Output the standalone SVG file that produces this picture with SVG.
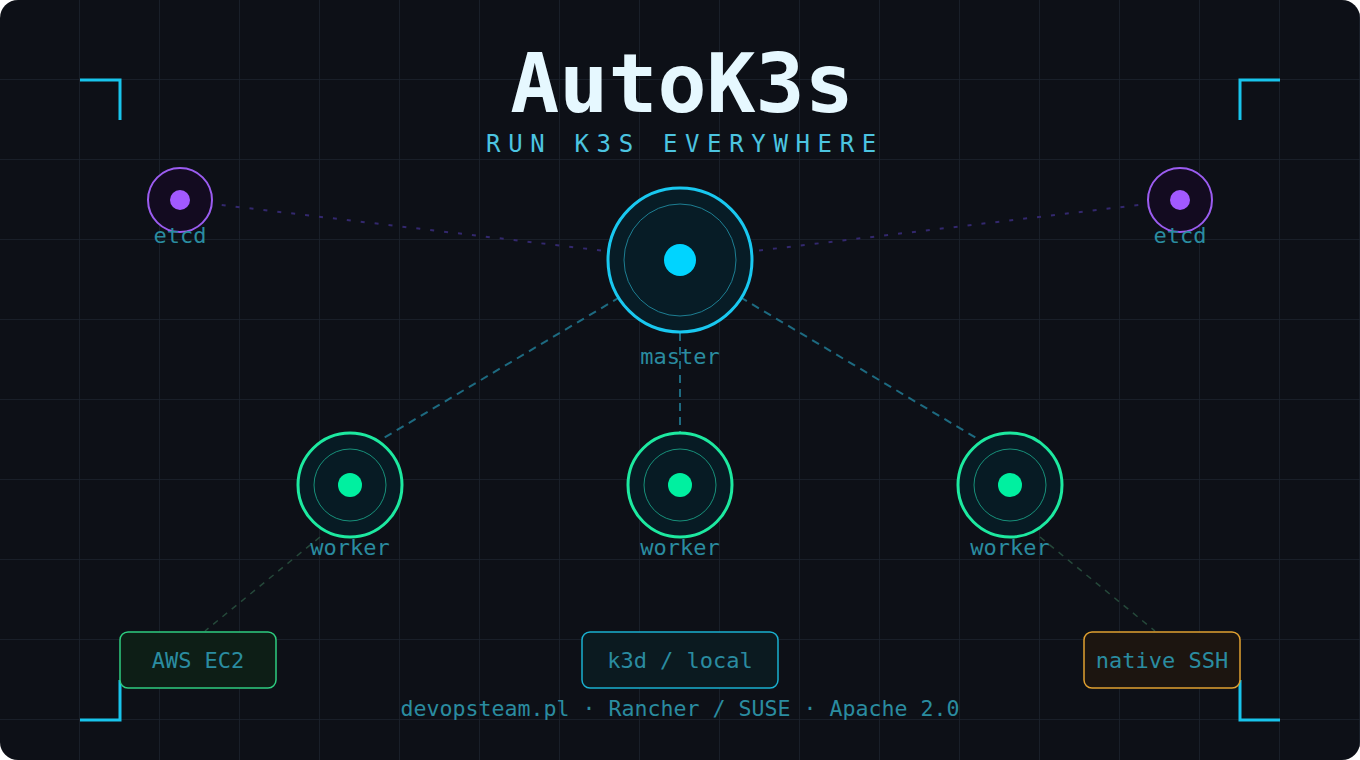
<svg xmlns="http://www.w3.org/2000/svg" width="1360" height="760" viewBox="0 0 1360 760">
  <defs>
    <pattern id="grid" x="0" y="0" width="80" height="80" patternUnits="userSpaceOnUse">
      <path d="M80 0 V80 M0 80 H80" fill="none" stroke="#1d232e" stroke-width="1.5"/>
    </pattern>
    <clipPath id="bgclip"><rect x="0" y="0" width="1360" height="760" rx="18"/></clipPath>
  </defs>
  <style>
    .lbl { font-family: "DejaVu Sans Mono", "Liberation Mono", monospace; font-size: 22px; fill: #2a8ca0; text-anchor: middle; }
    .bracket { fill: none; stroke: #18c4ec; stroke-width: 3; }
    .m2w { fill: none; stroke: #1d6a80; stroke-width: 2; stroke-dasharray: 8 6; }
    .e2m { fill: none; stroke: #33286e; stroke-width: 2; stroke-dasharray: 4 10; }
    .w2p { fill: none; stroke: #25483a; stroke-width: 1.5; stroke-dasharray: 6 6; }
    .etcd-ring { fill: #130b20; stroke: #9b5cf0; stroke-width: 2; }
    .etcd-dot { fill: #a259ff; }
    .worker-ring { fill: #071b24; stroke: #1de9a0; stroke-width: 3; }
    .worker-inner { fill: none; stroke: #17907a; stroke-width: 1; }
    .worker-dot { fill: #00f0a0; }
  </style>

  <g id="background" clip-path="url(#bgclip)">
    <rect x="0" y="0" width="1360" height="760" fill="#0d1017"/>
    <rect x="0" y="0" width="1360" height="760" fill="url(#grid)"/>
  </g>

  <g id="brackets">
    <path class="bracket" d="M80 80 H120 V120"/>
    <path class="bracket" d="M1280 80 H1240 V120"/>
    <path class="bracket" d="M80 720 H120 V680"/>
    <path class="bracket" d="M1280 720 H1240 V680"/>
  </g>

  <g id="title">
    <text x="682" y="112" font-family="DejaVu Sans Mono, Liberation Mono, monospace" font-size="81.5" font-weight="bold" fill="#e6f8ff" text-anchor="middle">AutoK3s</text>
    <text x="685" y="152" font-family="DejaVu Sans Mono, Liberation Mono, monospace" font-size="24" letter-spacing="7.65" fill="#4cc4e0" text-anchor="middle">RUN K3S EVERYWHERE</text>
  </g>

  <g id="connectors">
    <line class="e2m" x1="180" y1="200" x2="680" y2="260"/>
    <line class="e2m" x1="1180" y1="200" x2="680" y2="260"/>
    <line class="m2w" x1="620" y1="297" x2="382" y2="439"/>
    <line class="m2w" x1="680" y1="333" x2="680" y2="433"/>
    <line class="m2w" x1="740" y1="297" x2="978" y2="439"/>
    <line class="w2p" x1="320" y1="537" x2="205" y2="631"/>
    <line class="w2p" x1="1040" y1="537" x2="1155" y2="631"/>
  </g>

  <g id="etcd-left">
    <circle class="etcd-ring" cx="180" cy="200" r="32"/>
    <circle class="etcd-dot" cx="180" cy="200" r="10"/>
    <text class="lbl" x="180" y="243">etcd</text>
  </g>
  <g id="etcd-right">
    <circle class="etcd-ring" cx="1180" cy="200" r="32"/>
    <circle class="etcd-dot" cx="1180" cy="200" r="10"/>
    <text class="lbl" x="1180" y="243">etcd</text>
  </g>

  <g id="master">
    <circle cx="680" cy="260" r="72" fill="#071c26" stroke="#19c8f0" stroke-width="3"/>
    <circle cx="680" cy="260" r="56" fill="none" stroke="#1d7e92" stroke-width="1"/>
    <circle cx="680" cy="260" r="16" fill="#00d4ff"/>
    <text class="lbl" x="680" y="364">master</text>
  </g>

  <g id="worker-1">
    <circle class="worker-ring" cx="350" cy="485" r="52"/>
    <circle class="worker-inner" cx="350" cy="485" r="36"/>
    <circle class="worker-dot" cx="350" cy="485" r="12"/>
    <text class="lbl" x="350" y="555">worker</text>
  </g>
  <g id="worker-2">
    <circle class="worker-ring" cx="680" cy="485" r="52"/>
    <circle class="worker-inner" cx="680" cy="485" r="36"/>
    <circle class="worker-dot" cx="680" cy="485" r="12"/>
    <text class="lbl" x="680" y="555">worker</text>
  </g>
  <g id="worker-3">
    <circle class="worker-ring" cx="1010" cy="485" r="52"/>
    <circle class="worker-inner" cx="1010" cy="485" r="36"/>
    <circle class="worker-dot" cx="1010" cy="485" r="12"/>
    <text class="lbl" x="1010" y="555">worker</text>
  </g>

  <g id="provider-aws">
    <rect x="120" y="632" width="156" height="56" rx="8" fill="#0d1e16" stroke="#2ecc80" stroke-width="1.5"/>
    <text class="lbl" x="198" y="668">AWS EC2</text>
  </g>
  <g id="provider-k3d">
    <rect x="582" y="632" width="196" height="56" rx="8" fill="#0b1a20" stroke="#1ab0d0" stroke-width="1.5"/>
    <text class="lbl" x="680" y="668">k3d / local</text>
  </g>
  <g id="provider-ssh">
    <rect x="1084" y="632" width="156" height="56" rx="8" fill="#1c1510" stroke="#e0a030" stroke-width="1.5"/>
    <text class="lbl" x="1162" y="668">native SSH</text>
  </g>

  <g id="footer">
    <text class="lbl" x="680" y="716" style="font-size:21.6px">devopsteam.pl · Rancher / SUSE · Apache 2.0</text>
  </g>
</svg>
